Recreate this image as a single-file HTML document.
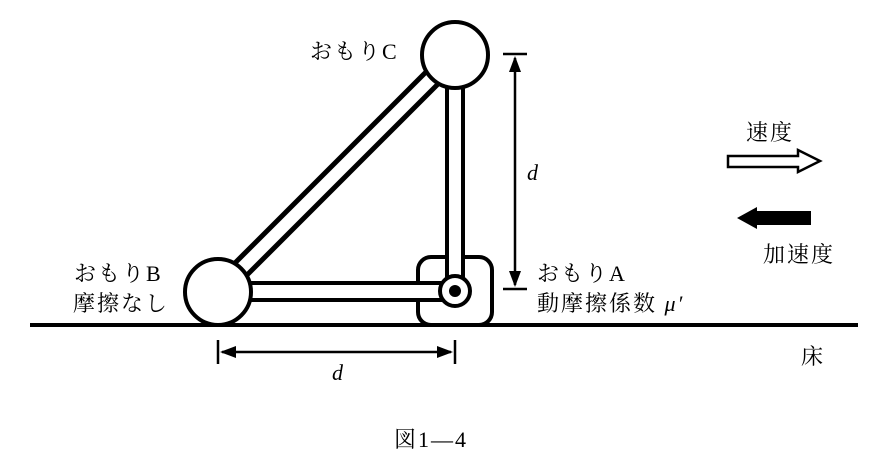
<!DOCTYPE html>
<html><head><meta charset="utf-8"><style>
html,body{margin:0;padding:0;background:#fff;width:886px;height:458px;overflow:hidden}
svg text{font-family:"Liberation Serif","Noto Serif CJK SC","Noto Sans CJK JP",serif;fill:#000;letter-spacing:2px}
</style></head><body>
<svg width="886" height="458" viewBox="0 0 886 458" xmlns="http://www.w3.org/2000/svg">
<g stroke="#000" stroke-width="4" fill="#fff">
<line x1="224" y1="286" x2="450" y2="60" stroke-width="22"/>
<line x1="224" y1="286" x2="450" y2="60" stroke="#fff" stroke-width="12"/>
<rect x="418" y="257" width="74" height="68" rx="13"/>
<rect x="447" y="80" width="16" height="200"/>
<rect x="240" y="283" width="205" height="17"/>
<circle cx="218" cy="292" r="33"/>
<circle cx="455" cy="55" r="33"/>
<circle cx="455" cy="291" r="15"/>
</g>
<circle cx="455" cy="291" r="6" fill="#000"/>
<line x1="30" y1="325" x2="858" y2="325" stroke="#000" stroke-width="4"/>
<g stroke="#000" stroke-width="2.5">
<line x1="503" y1="54" x2="527" y2="54"/>
<line x1="503" y1="289" x2="527" y2="289"/>
<line x1="515" y1="58" x2="515" y2="285"/>
<line x1="218" y1="340" x2="218" y2="364"/>
<line x1="455" y1="340" x2="455" y2="364"/>
<line x1="222" y1="352" x2="451" y2="352"/>
</g>
<polygon points="515,56 509,72 521,72" fill="#000"/>
<polygon points="515,287 509,271 521,271" fill="#000"/>
<polygon points="220,352 236,346 236,358" fill="#000"/>
<polygon points="453,352 437,346 437,358" fill="#000"/>
<polygon points="728,156 798,156 798,150 820,161 798,172 798,167 728,167" fill="#fff" stroke="#000" stroke-width="2.5"/>
<polygon points="811,211 757,211 757,207 737,218 757,229 757,225 811,225" fill="#000"/>
<text x="310" y="59" font-size="22" letter-spacing="4">おもりC</text>
<text x="527" y="180" font-size="22" font-style="italic">d</text>
<text x="746" y="140" font-size="22">速度</text>
<text x="763" y="262" font-size="22">加速度</text>
<text x="74" y="281" font-size="22" letter-spacing="4">おもりB</text>
<text x="73" y="311" font-size="22">摩擦なし</text>
<text x="537" y="281" font-size="22" letter-spacing="4">おもりA</text>
<text x="537" y="311" font-size="22">動摩擦係数 <tspan font-style="italic">μ′</tspan></text>
<text x="801" y="364" font-size="22">床</text>
<text x="332" y="380" font-size="22" font-style="italic">d</text>
<text x="394" y="447" font-size="22" letter-spacing="6">図1—4</text>
</svg>
</body></html>
